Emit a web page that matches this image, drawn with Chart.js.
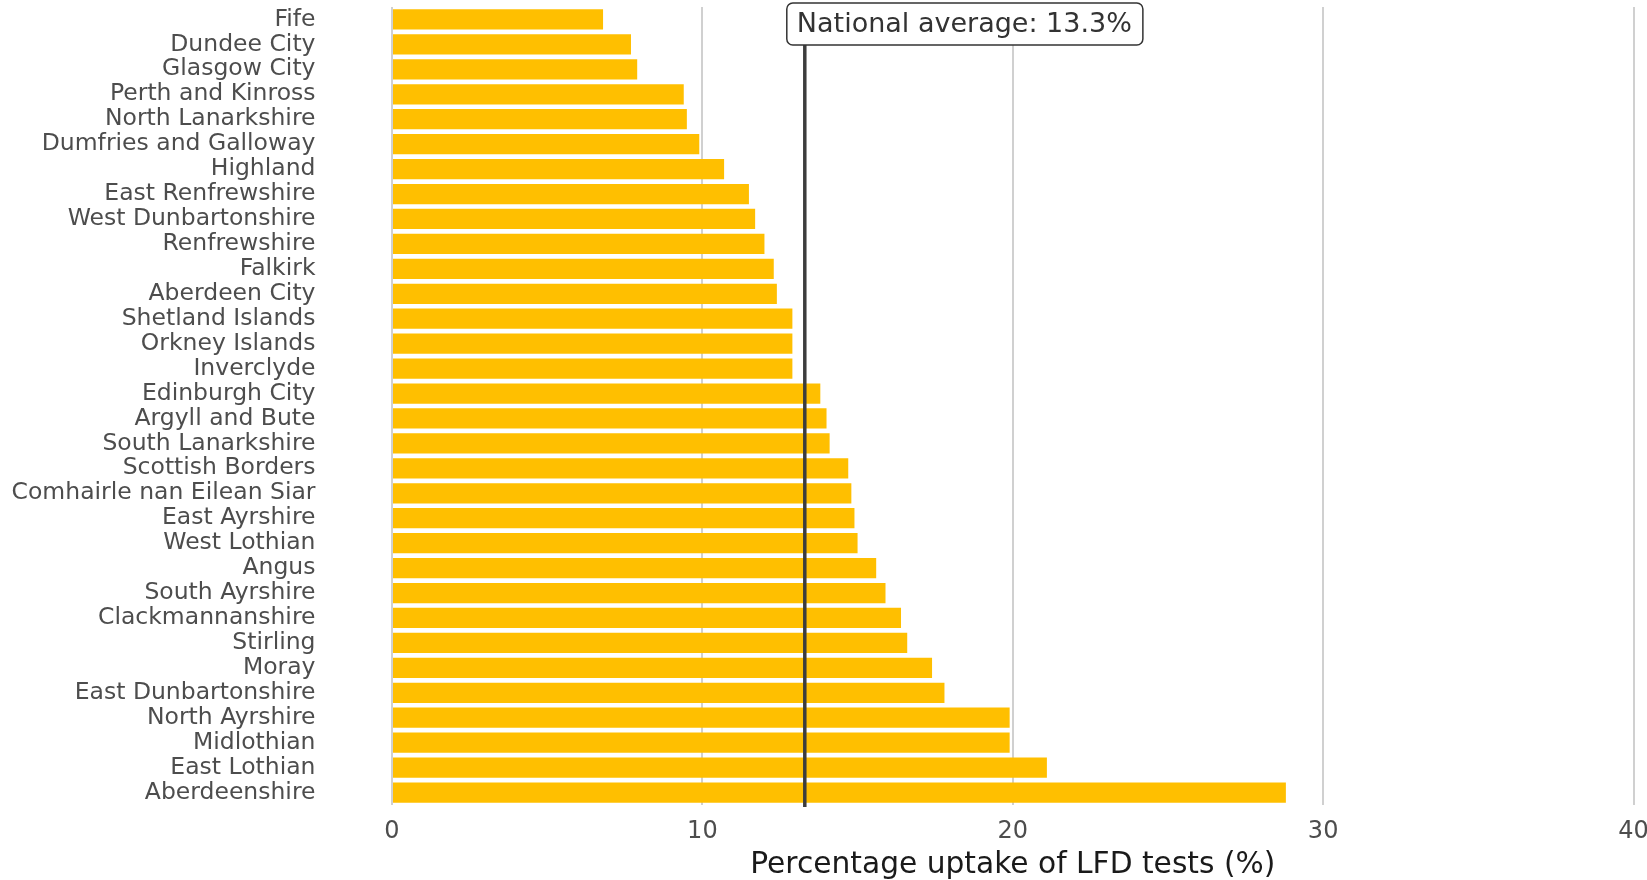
<!DOCTYPE html>
<html>
<head>
<meta charset="utf-8">
<script src="https://cdn.jsdelivr.net/npm/chart.js@4/dist/chart.umd.min.js"></script>
<style>
  html, body { margin: 0; padding: 0; background: #fff; }
  #wrap { width: 1647px; height: 880px; }
</style>
</head>
<body>
<div id="wrap"><canvas id="myChart" width="1647" height="880"></canvas></div>
<script>
const councils = [
  "Fife", "Dundee City", "Glasgow City", "Perth and Kinross", "North Lanarkshire",
  "Dumfries and Galloway", "Highland", "East Renfrewshire", "West Dunbartonshire",
  "Renfrewshire", "Falkirk", "Aberdeen City", "Shetland Islands", "Orkney Islands",
  "Inverclyde", "Edinburgh City", "Argyll and Bute", "South Lanarkshire",
  "Scottish Borders", "Comhairle nan Eilean Siar", "East Ayrshire", "West Lothian",
  "Angus", "South Ayrshire", "Clackmannanshire", "Stirling", "Moray",
  "East Dunbartonshire", "North Ayrshire", "Midlothian", "East Lothian", "Aberdeenshire"
]
const uptake = [
  6.8, 7.7, 7.9, 9.4, 9.5,
  9.9, 10.7, 11.5, 11.7,
  12.0, 12.3, 12.4, 12.9, 12.9,
  12.9, 13.8, 14.0, 14.1,
  14.7, 14.8, 14.9, 15.0,
  15.6, 15.9, 16.4, 16.6, 17.4,
  17.8, 19.9, 19.9, 21.1, 28.8
]
const xTicks = [0, 10, 20, 30, 40]
const nationalAverage = 13.3
const avgLabel = "National average: 13.3%"

// vertical line + boxed label for the national average
const avgLine = {
  id: "avgLine",
  afterDatasetsDraw(chart) {
    const ctx = chart.ctx
    const area = chart.chartArea
    const x = chart.scales.x.getPixelForValue(nationalAverage)
    const bx = x - 18, by = 3, bh = 42
    ctx.save()
    ctx.strokeStyle = "#3d3d3d"
    ctx.lineWidth = 3.5
    ctx.beginPath()
    ctx.moveTo(x, by + bh)
    ctx.lineTo(x, area.bottom + 2)
    ctx.stroke()

    ctx.font = "27px 'DejaVu Sans'"
    const w = ctx.measureText(avgLabel).width + 21
    ctx.fillStyle = "#fff"
    ctx.strokeStyle = "#333"
    ctx.lineWidth = 1.5
    ctx.beginPath()
    ctx.roundRect(bx, by, w, bh, 6)
    ctx.fill()
    ctx.stroke()
    ctx.fillStyle = "#333"
    ctx.textBaseline = "middle"
    ctx.fillText(avgLabel, bx + 10, by + bh / 2 + 1)
    ctx.restore()
  }
}

const ctx = document.getElementById("myChart").getContext("2d")
const chart = new Chart(ctx, {
  type: "bar",
  data: {
    labels: councils,
    datasets: [{
      data: uptake,
      backgroundColor: "#FFBF00",
      borderWidth: 0,
      categoryPercentage: 1,
      barPercentage: 0.81
    }]
  },
  options: {
    indexAxis: "y",
    responsive: false,
    animation: false,
    layout: { padding: { top: 7, right: 13.5, left: 0, bottom: 0 } },
    plugins: {
      legend: { display: false },
      tooltip: { enabled: false }
    },
    scales: {
      x: {
        min: 0,
        max: 40,
        afterBuildTicks: (scale) => { scale.ticks = xTicks.map(v => ({ value: v })) },
        afterFit: (scale) => {
          scale.height = 75
          scale.paddingLeft = 0
          scale.paddingRight = 0
        },
        grid: { color: "#d0d0d0", lineWidth: 2, drawTicks: false },
        border: { display: false },
        ticks: {
          color: "#4d4d4d",
          padding: 12,
          font: { family: "DejaVu Sans", size: 24 }
        },
        title: {
          display: true,
          text: "Percentage uptake of LFD tests (%)",
          color: "#1a1a1a",
          padding: { top: 0, bottom: 0 },
          font: { family: "DejaVu Sans", size: 29.7, lineHeight: 1.0 }
        }
      },
      y: {
        grid: { display: false },
        border: { display: false },
        afterFit: (scale) => {
          scale.width = 392
          scale.paddingTop = 0
          scale.paddingBottom = 0
        },
        ticks: {
          color: "#4d4d4d",
          padding: 68.5,
          autoSkip: false,
          font: { family: "DejaVu Sans", size: 23.5 }
        }
      }
    }
  },
  plugins: [avgLine]
})
</script>
</body>
</html>
